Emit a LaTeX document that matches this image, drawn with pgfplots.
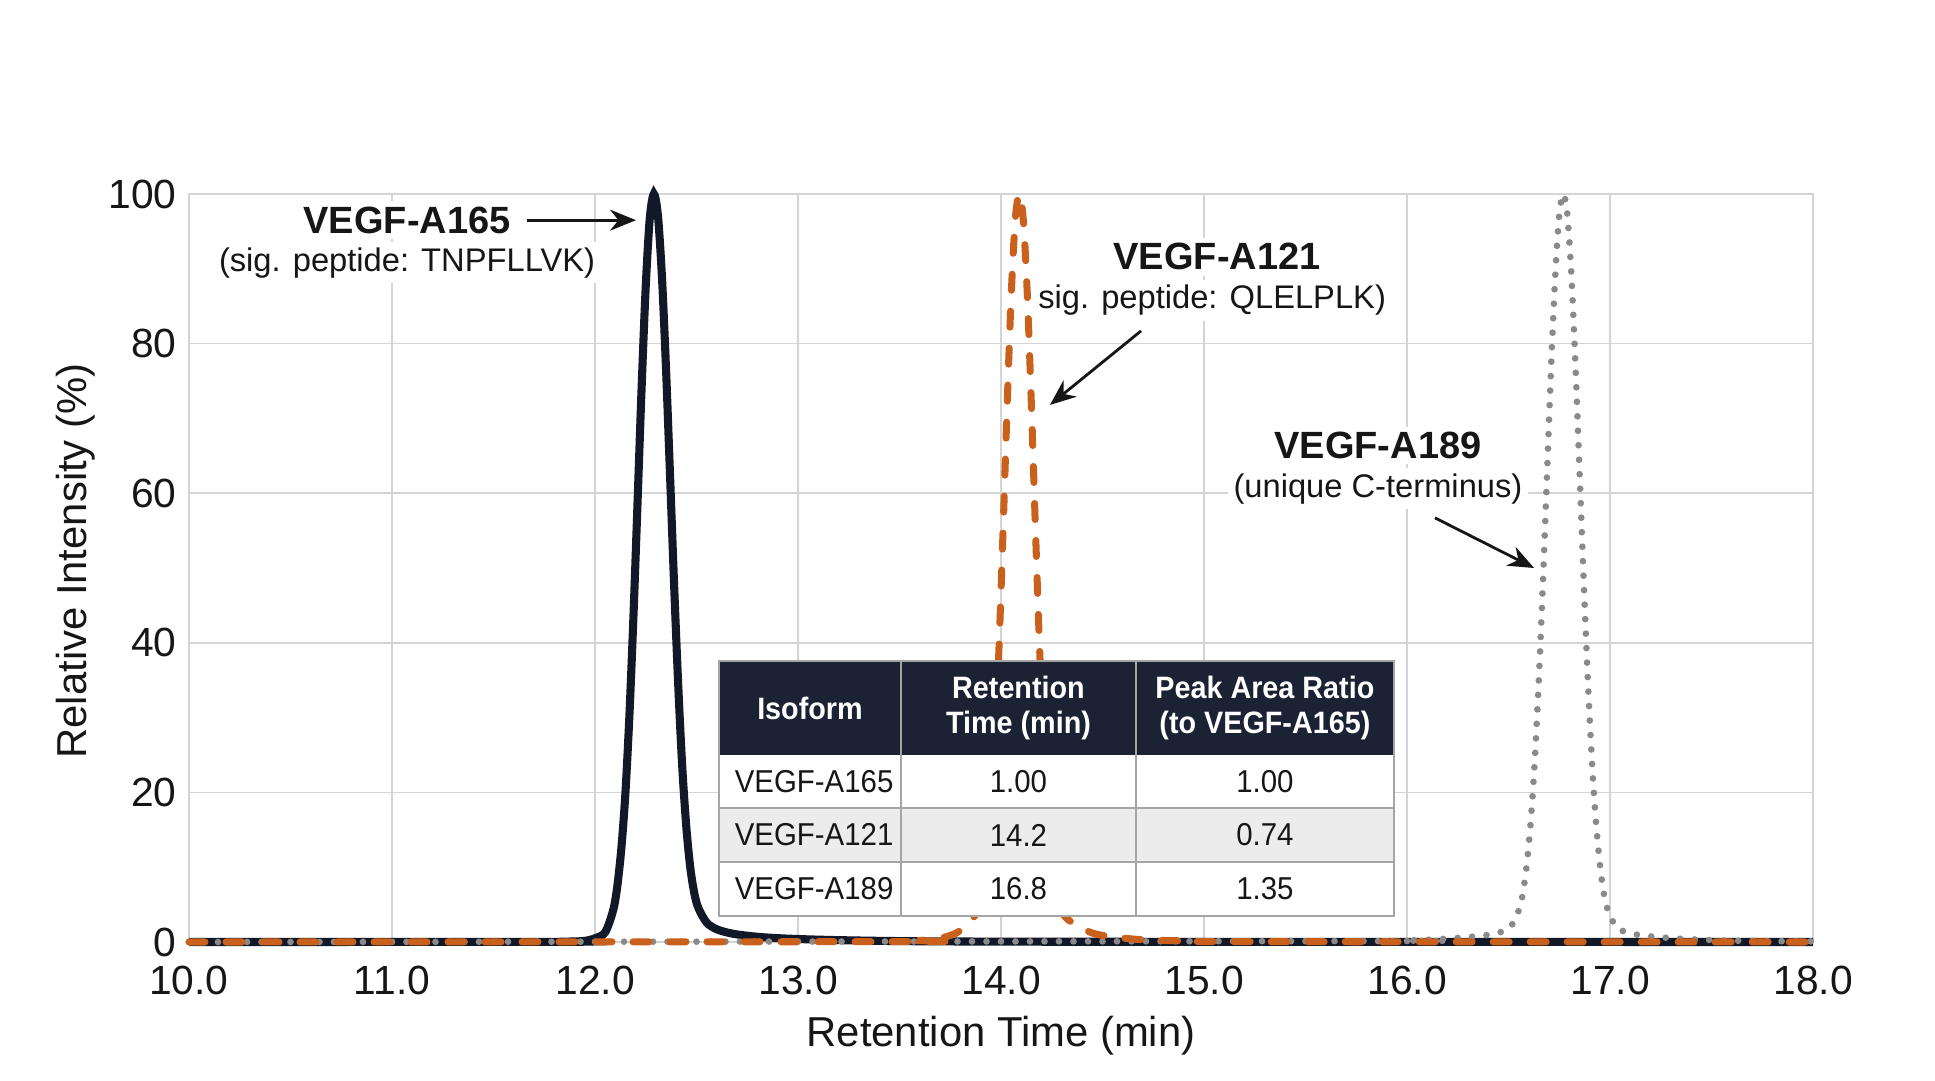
\documentclass[border=0pt]{standalone}
\usepackage{fontspec}
\setmainfont{Liberation Sans}
\newfontfamily\tabfont[FakeStretch=0.93]{Liberation Sans}
\usepackage{pgfplots}
\pgfplotsset{compat=1.18}
\usetikzlibrary{arrows.meta}

\definecolor{tracenavy}{RGB}{17,24,39}
\definecolor{traceorange}{RGB}{201,96,28}
\definecolor{tracegray}{RGB}{138,138,138}
\definecolor{gridgray}{RGB}{212,212,212}
\definecolor{textblack}{RGB}{22,22,22}
\definecolor{headfill}{RGB}{26,34,51}
\definecolor{rowgray}{RGB}{236,236,236}
\definecolor{ruleGray}{RGB}{165,165,165}

% VEGF-A165 trace (solid)
\pgfplotstableread{
x y
10.00 0
11.80 0.02
11.90 0.08
11.95 0.15
12.00 0.5
12.05 1.3
12.09 4.3
12.11 7.5
12.13 12.6
12.15 20.0
12.17 30.6
12.19 44.0
12.21 59.1
12.23 74.4
12.25 87.7
12.27 96.8
12.29 100
12.31 97.1
12.33 88.8
12.35 76.5
12.37 62.1
12.39 47.5
12.41 34.3
12.43 23.3
12.45 15.3
12.47 9.8
12.49 6.4
12.51 4.5
12.55 2.6
12.60 1.7
12.68 1.1
12.80 0.7
12.95 0.45
13.20 0.25
13.60 0.1
14.50 0.03
18.00 0
}\tabAsixfive

% VEGF-A121 trace (dashed)
\pgfplotstableread{
x y
10.00 0
13.50 0.05
13.60 0.2
13.70 0.5
13.78 1.2
13.83 2.3
13.87 3.5
13.91 6.8
13.93 10.5
13.95 16.8
13.97 26.4
13.99 39.3
14.01 54.9
14.03 71.5
14.05 86.3
14.07 96.5
14.09 100
14.11 96.5
14.13 86.3
14.15 71.5
14.17 54.9
14.19 39.3
14.21 26.4
14.23 16.8
14.25 10.5
14.27 6.8
14.29 4.4
14.33 3.0
14.39 2.0
14.45 1.2
14.54 0.7
14.70 0.3
14.90 0.15
15.20 0.05
18.00 0
}\tabAonetwoone

% VEGF-A189 trace (dotted)
\pgfplotstableread{
x y
10.00 0
15.77 0.12
16.00 0.2
16.17 0.4
16.32 0.7
16.41 1.0
16.47 1.4
16.51 2.0
16.55 4.2
16.57 6.4
16.59 10.4
16.61 16.3
16.63 24.6
16.65 35.5
16.67 48.5
16.69 62.8
16.71 77.0
16.73 89.0
16.75 97.2
16.77 100
16.79 97.2
16.81 89.0
16.83 77.0
16.85 62.8
16.87 48.5
16.89 35.5
16.91 24.6
16.93 16.3
16.95 10.4
16.97 6.4
16.99 4.2
17.03 2.0
17.07 1.4
17.13 1.0
17.22 0.7
17.37 0.4
17.57 0.2
17.77 0.12
18.00 0.08
}\tabAoneeightnine

\begin{document}
\begin{tikzpicture}
\path[use as bounding box] (0,0) rectangle (19.35cm,10.8cm);
\begin{axis}[
  at={(1.89cm,1.38cm)}, anchor=south west,
  width=16.24cm, height=7.48cm, scale only axis,
  xmin=10, xmax=18, ymin=0, ymax=100,
  xtick={10,11,...,18}, ytick={0,20,...,100},
  xticklabel={\pgfmathprintnumber[fixed,fixed zerofill,precision=1]{\tick}},
  /pgf/number format/assume math mode=true,
  tick label style={font=\fontsize{11.6}{13}\selectfont, text=textblack},
  xticklabel style={yshift=-1.2mm},
  major tick length=0pt,
  grid=major,
  grid style={draw=gridgray, line width=0.5pt},
  axis line style={draw=gridgray, line width=0.6pt},
  clip=false,
]
\addplot[tracenavy, line width=2.3pt, smooth, tension=0.5] table {\tabAsixfive};
\addplot[tracegray, line width=1.9pt, line cap=round, dash pattern=on 0pt off 1.45mm, smooth, tension=0.5] table {\tabAoneeightnine};
\addplot[traceorange, line width=2.0pt, line cap=round, dash pattern=on 1.6mm off 2.1mm, smooth, tension=0.5] table {\tabAonetwoone};

% peak annotations
\node[fill=white, inner sep=1.5pt, text=textblack, font=\fontsize{10.8}{12}\selectfont\bfseries] at (axis cs:11.074,96.5) {VEGF-A165};
\node[fill=white, inner sep=1.5pt, text=textblack, font=\fontsize{9.3}{11}\selectfont] at (axis cs:11.074,90.8) {(sig. peptide: TNPFLLVK)};
\draw[-{Stealth[length=2.6mm,width=2.1mm]}, line width=0.8pt, textblack] (axis cs:11.665,96.5) -- (axis cs:12.202,96.5);

\node[fill=white, inner sep=1.5pt, text=textblack, font=\fontsize{10.8}{12}\selectfont\bfseries] at (axis cs:15.064,91.6) {VEGF-A121};
\node[fill=white, inner sep=1.5pt, text=textblack, font=\fontsize{9.3}{11}\selectfont] at (axis cs:15.040,85.8) {sig. peptide: QLELPLK)};
\draw[-{Stealth[length=2.6mm,width=2.1mm]}, line width=0.8pt, textblack] (axis cs:14.690,81.7) -- (axis cs:14.241,71.8);

\node[fill=white, inner sep=1.5pt, text=textblack, font=\fontsize{10.8}{12}\selectfont\bfseries] at (axis cs:15.857,66.4) {VEGF-A189};
\node[fill=white, inner sep=1.5pt, text=textblack, font=\fontsize{9.3}{11}\selectfont] at (axis cs:15.857,60.6) {(unique C-terminus)};
\draw[-{Stealth[length=2.6mm,width=2.1mm]}, line width=0.8pt, textblack] (axis cs:16.138,56.7) -- (axis cs:16.626,50.0);

% summary table
\fill[white] (axis cs:12.611,3.48) rectangle (axis cs:15.936,37.57);
\fill[headfill] (axis cs:12.611,25.0) rectangle (axis cs:15.936,37.57);
\fill[rowgray] (axis cs:12.611,10.70) rectangle (axis cs:15.936,17.91);
\draw[ruleGray, line width=0.45pt] (axis cs:12.611,17.91) -- (axis cs:15.936,17.91);
\draw[ruleGray, line width=0.45pt] (axis cs:12.611,10.70) -- (axis cs:15.936,10.70);
\draw[ruleGray, line width=0.45pt] (axis cs:13.507,3.48) -- (axis cs:13.507,37.57);
\draw[ruleGray, line width=0.45pt] (axis cs:14.665,3.48) -- (axis cs:14.665,37.57);
\draw[ruleGray, line width=0.6pt] (axis cs:12.611,3.48) rectangle (axis cs:15.936,37.57);

\node[text=white, align=center, font=\tabfont\fontsize{8.8}{9.9}\selectfont\bfseries] at (axis cs:13.059,31.28) {Isoform};
\node[text=white, align=center, font=\tabfont\fontsize{8.8}{9.9}\selectfont\bfseries] at (axis cs:14.086,31.28) {Retention\\Time (min)};
\node[text=white, align=center, font=\tabfont\fontsize{8.8}{9.9}\selectfont\bfseries] at (axis cs:15.300,31.28) {Peak Area Ratio\\(to VEGF-A165)};

\node[anchor=west, inner sep=0pt, text=textblack, font=\tabfont\fontsize{9}{11}\selectfont] at (axis cs:12.685,21.46) {VEGF-A165};
\node[text=textblack, font=\tabfont\fontsize{9}{11}\selectfont] at (axis cs:14.086,21.46) {1.00};
\node[text=textblack, font=\tabfont\fontsize{9}{11}\selectfont] at (axis cs:15.300,21.46) {1.00};
\node[anchor=west, inner sep=0pt, text=textblack, font=\tabfont\fontsize{9}{11}\selectfont] at (axis cs:12.685,14.30) {VEGF-A121};
\node[text=textblack, font=\tabfont\fontsize{9}{11}\selectfont] at (axis cs:14.086,14.30) {14.2};
\node[text=textblack, font=\tabfont\fontsize{9}{11}\selectfont] at (axis cs:15.300,14.30) {0.74};
\node[anchor=west, inner sep=0pt, text=textblack, font=\tabfont\fontsize{9}{11}\selectfont] at (axis cs:12.685,7.09) {VEGF-A189};
\node[text=textblack, font=\tabfont\fontsize{9}{11}\selectfont] at (axis cs:14.086,7.09) {16.8};
\node[text=textblack, font=\tabfont\fontsize{9}{11}\selectfont] at (axis cs:15.300,7.09) {1.35};
\end{axis}
\node[text=textblack, font=\fontsize{11.9}{14}\selectfont] at (10.01cm,0.44cm) {Retention Time (min)};
\node[text=textblack, rotate=90, font=\fontsize{11.9}{14}\selectfont] at (0.76cm,5.19cm) {Relative Intensity (\%)};
\end{tikzpicture}
\end{document}
